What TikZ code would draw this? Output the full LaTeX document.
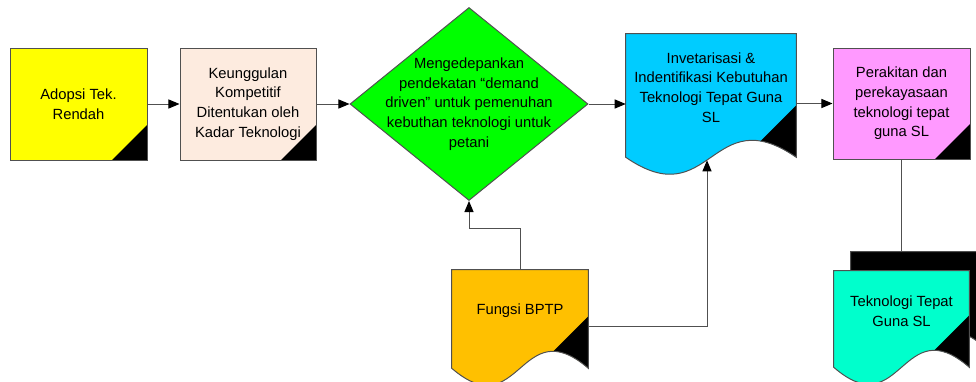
\documentclass[tikz,border=0pt]{standalone}
\usepackage{fontspec}
\setmainfont{Liberation Sans}
\usetikzlibrary{shapes.geometric,arrows.meta,backgrounds}

\definecolor{kuning}{HTML}{FFFF00}
\definecolor{krem}{HTML}{FDEBDF}
\definecolor{hijau}{HTML}{00FF00}
\definecolor{biru}{HTML}{00CCFF}
\definecolor{merahmuda}{HTML}{FF99FF}
\definecolor{jingga}{HTML}{FFC000}
\definecolor{tosca}{HTML}{00FFCC}
\definecolor{garisabu}{HTML}{505050}

\tikzset{
  garis/.style={draw=garisabu, line width=0.7pt},
  panah/.style={garis, -{Triangle[length=2.8mm,width=2.3mm,black]}},
  huruf/.style={font=\fontsize{10.5}{14}\selectfont, align=center},
  kotak/.style={garis, huruf, rectangle, inner sep=2pt,
    path picture={\fill[black] (path picture bounding box.south east) -- ++(0,0.875) -- ++(-0.875,-0.875) -- cycle;}},
  dokumen/.style={huruf, rectangle, inner sep=2pt},
  belah/.style={garis, diamond, fill=hijau, inner sep=0pt},
}

% bentuk dokumen (sisi bawah bergelombang)
\newcommand{\dokpath}[1]{(#1.north west) -- (#1.north east) -- ([yshift=-4mm]#1.south east) .. controls ([yshift=10.7mm]#1.south) and ([yshift=-18.7mm]#1.south) .. ([yshift=-4mm]#1.south west) -- cycle}
\newcommand{\gambardok}[2]{%
  \begin{pgfonlayer}{background}
    \fill[#2] \dokpath{#1};
    \begin{scope}
      \clip \dokpath{#1};
      \fill[black] ([yshift=9mm]#1.south east) -- ++(-4,-4) -- ++(4,0) -- cycle;
    \end{scope}
    \draw[garis] \dokpath{#1};
  \end{pgfonlayer}}

\begin{document}
\begin{tikzpicture}
\useasboundingbox (0,0) rectangle (24.4,-9.525);

% baris atas
\node[kotak, fill=kuning, minimum width=3.425cm, minimum height=2.8cm] (adopsi) at (1.9625,-2.6) {Adopsi Tek.\\ Rendah};
\node[kotak, fill=krem, minimum width=3.4cm, minimum height=2.8cm] (keunggulan) at (6.2,-2.6) {Keunggulan\\ Kompetitif\\ Ditentukan oleh\\ Kadar Teknologi};
\node[belah, minimum width=5.95cm, minimum height=4.825cm,
  label={[huruf]center:{Mengedepankan\\ pendekatan “demand\\ driven” untuk pemenuhan\\ kebuthan teknologi untuk\\ petani}}] (mengedepankan) at (11.725,-2.6) {};
\node[dokumen, minimum width=4.25cm, minimum height=2.675cm] (inventarisasi) at (17.775,-2.1875) {Invetarisasi \&\\ Indentifikasi Kebutuhan\\ Teknologi Tepat Guna\\ SL};
\gambardok{inventarisasi}{biru}
\node[kotak, fill=merahmuda, minimum width=3.425cm, minimum height=2.775cm] (perakitan) at (22.5375,-2.5875) {Perakitan dan\\ perekayasaan\\ teknologi tepat\\ guna SL};

% baris bawah
\node[dokumen, minimum width=3.4cm, minimum height=2.05cm] (fungsi) at (13,-7.775) {Fungsi BPTP};
\gambardok{fungsi}{jingga}
\node[dokumen, minimum width=3.375cm, minimum height=2cm] (bayang) at (22.9625,-7.3) {};
\gambardok{bayang}{black}
\node[dokumen, minimum width=3.375cm, minimum height=2cm] (teknologi) at (22.5375,-7.775) {Teknologi Tepat\\ Guna SL};
\gambardok{teknologi}{tosca}

% penghubung
\draw[panah] (adopsi.east) -- (keunggulan.west);
\draw[panah] (keunggulan.east) -- (keunggulan.east -| mengedepankan.west);
\draw[panah] (mengedepankan.east) -- (mengedepankan.east -| inventarisasi.west);
\draw[panah] (perakitan.west -| inventarisasi.east) -- (perakitan.west);
\draw[panah] (fungsi.north) -- ++(0,1.025) -| (mengedepankan.south);
\draw[panah] ([yshift=-3.75mm]fungsi.east) -| ([xshift=-1mm,yshift=-4.75mm]inventarisasi.south);
\draw[garis] (perakitan.south) -- (perakitan.south |- bayang.north);
\end{tikzpicture}
\end{document}
